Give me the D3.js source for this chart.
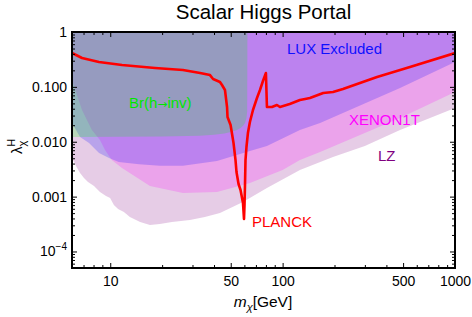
<!DOCTYPE html>
<html><head><meta charset="utf-8">
<script src="https://cdn.jsdelivr.net/npm/d3@7"></script>
<style>
body{margin:0;background:#fff}
text{font-family:"Liberation Sans",Arial,sans-serif}
</style>
</head><body>
<svg id="c" width="472" height="317"></svg>
<script>
// ---- data ----
const xTickValues = [10, 50, 100, 500, 1000];
const xTickLabels = ["10", "50", "100", "500", "1000"];
const xMinorTicks = [6,7,8,9,20,30,40,60,70,80,90,200,300,400,600,700,800,900];
const yTickValues = [1, 0.1, 0.01, 0.001, 0.0001];
const yTickLabels = ["1", "0.100", "0.010", "0.001", "10^-4"];

// PLANCK relic-density line
const planckM = [6.0,6.86,8.6,11.7,18.2,26.4,33.2,37.9,39.5,43.3,44.5,46.3,47.6,47.9,49.9,51.9,53.3,54.0,55.5,57.0,58.9,59.7,60.1,60.5,60.9,61.7,62.9,64.6,67.3,71.0,73.9,76.9,80.0,81.1,86.7,92.7,96.5,110,126,135,144,172,196,224,281,353,548,1000];
const planckL = [0.414,0.336,0.284,0.250,0.221,0.203,0.179,0.164,0.139,0.123,0.108,0.0877,0.043,0.0282,0.0202,0.00948,0.00464,0.00281,0.0017,0.00132,0.000765,0.000391,0.000703,0.00163,0.00464,0.00802,0.0144,0.0229,0.0379,0.0627,0.0877,0.128,0.179,0.043,0.043,0.0467,0.043,0.0487,0.0577,0.0601,0.0627,0.0773,0.0807,0.0914,0.118,0.151,0.230,0.414];

// LUX excluded (lower boundary)
const luxM = [5.39,6.0,6.68,7.53,8.61,9.84,11.2,14.7,19.4,26.4,41.6,64.6,81.1,126,165,480,1000];
const luxL = [0.0395,0.0220,0.0122,0.00948,0.00623,0.00506,0.00427,0.0039,0.00364,0.00364,0.00446,0.00678,0.00836,0.0164,0.022,0.0953,0.284];

// XENON1T (lower boundary)
const xenonM = [5.54,6.0,6.86,7.83,8.72,9.33,10.2,11.7,17.0,26.4,41.6,64.6,100,126,165,480,1000];
const xenonL = [0.203,0.133,0.0379,0.0164,0.0108,0.00707,0.00464,0.00332,0.00156,0.00116,0.00121,0.00177,0.00306,0.00465,0.0065,0.0271,0.0807];

// LZ (lower boundary)
const lzM = [5.54,6.0,6.33,6.68,7.04,7.43,8.05,8.72,9.45,9.98,10.5,11.1,12.0,13.0,14.9,17.0,19.4,22.8,29.0,35.4,43.3,58.9,81.1,126,196,300,480,1000];
const lzL = [0.00769,0.00506,0.00361,0.00269,0.00218,0.00185,0.00156,0.00121,0.00103,0.000944,0.000703,0.000594,0.000525,0.000425,0.000344,0.000304,0.000318,0.000344,0.000375,0.000425,0.000502,0.000798,0.00144,0.00306,0.00527,0.00836,0.0164,0.0412];

// Br(h->inv) (lower boundary)
const brM = [5,20,33,40,46,50,54,57,59,60.5,61.7,62.3,62.5];
const brL = [0.0122,0.0124,0.0128,0.0134,0.0142,0.015,0.0162,0.0178,0.0195,0.022,0.027,0.036,1];

// ---- drawing ----
const svg = d3.select("#c");
const L = 72, R = 455, T = 32, B = 268;
const x = d3.scaleLog().domain([6, 1000]).range([L, R]);
const y = d3.scaleLog().domain([5e-5, 1]).range([B, T]);

svg.append("defs").append("clipPath").attr("id","clip")
  .append("rect").attr("x",L).attr("y",T).attr("width",R-L).attr("height",B-T);

const plot = svg.append("g").attr("clip-path","url(#clip)");

function regionPath(ms, ls) {
  const pts = ms.map((m,i)=>[x(m), y(ls[i])]);
  pts.push([x(ms[ms.length-1]), y(1)-5]);
  pts.push([x(ms[0]), y(1)-5]);
  return "M" + pts.map(p=>p.join(",")).join("L") + "Z";
}
function regionPathFull(ms, ls) {
  const pts = ms.map((m,i)=>[x(m), y(ls[i])]);
  pts.push([R+5, pts[pts.length-1][1]]);
  pts.push([R+5, T-5]);
  pts.push([pts[0][0]-5, T-5]);
  return "M" + pts.map(p=>p.join(",")).join("L") + "Z";
}

plot.append("path").attr("d", regionPathFull(lzM, lzL)).attr("fill","#800080").attr("fill-opacity",0.2);
plot.append("path").attr("d", regionPathFull(xenonM, xenonL)).attr("fill","#ff00ff").attr("fill-opacity",0.2);
plot.append("path").attr("d", regionPathFull(luxM, luxL)).attr("fill","#0000ff").attr("fill-opacity",0.2);
plot.append("path").attr("d", regionPath(brM, brL)).attr("fill","#00ff00").attr("fill-opacity",0.2);

const line = d3.line().x((d)=>x(d[0])).y((d)=>y(d[1]));
plot.append("path").datum(planckM.map((m,i)=>[m, planckL[i]]))
  .attr("d", line).attr("fill","none").attr("stroke","#ff0000").attr("stroke-width",2.6)
  .attr("stroke-linejoin","round");

// ---- axes ----
const yMinor = [];
for (let e=-5; e<=-1; e++) for (let k=2; k<=9; k++) { const v=k*Math.pow(10,e); if (v>=5e-5 && v<1) yMinor.push(v); }

function styleAxis(g){ g.select(".domain").remove(); g.selectAll("line").attr("stroke","#000").attr("stroke-width",1); }

svg.append("g").attr("transform",`translate(${L},0)`)
  .call(d3.axisLeft(y).tickValues(yTickValues).tickSize(-5).tickPadding(5)
    .tickFormat((d,i)=>yTickLabels[i]))
  .call(styleAxis)
  .call(g=>g.selectAll("text").attr("font-size","14px").attr("fill","#000")
    .attr("font-family",'"Liberation Sans",Arial,sans-serif')
    .each(function(d,i){
      const lab = yTickLabels[i];
      if (lab.includes("^")) {
        const [base, ex] = lab.split("^");
        const t = d3.select(this); t.text(null);
        t.append("tspan").text(base);
        t.append("tspan").text(ex.replace("-","\u2212")).attr("font-size","10px").attr("dy","-0.6em");
      }
    }));
svg.append("g").attr("transform",`translate(${L},0)`)
  .call(d3.axisLeft(y).tickValues(yMinor).tickSize(-3).tickFormat(""))
  .call(styleAxis);
svg.append("g").attr("transform",`translate(${R},0)`)
  .call(d3.axisRight(y).tickValues(yTickValues).tickSize(-5).tickFormat(""))
  .call(styleAxis);
svg.append("g").attr("transform",`translate(${R},0)`)
  .call(d3.axisRight(y).tickValues(yMinor).tickSize(-3).tickFormat(""))
  .call(styleAxis);
svg.append("g").attr("transform",`translate(0,${B})`)
  .call(d3.axisBottom(x).tickValues(xTickValues).tickSize(-5).tickPadding(8)
    .tickFormat((d,i)=>xTickLabels[i]))
  .call(styleAxis)
  .call(g=>g.selectAll("text").attr("font-size","14px").attr("fill","#000")
    .attr("font-family",'"Liberation Sans",Arial,sans-serif'));
svg.append("g").attr("transform",`translate(0,${B})`)
  .call(d3.axisBottom(x).tickValues(xMinorTicks).tickSize(-3).tickFormat(""))
  .call(styleAxis);
svg.append("g").attr("transform",`translate(0,${T})`)
  .call(d3.axisTop(x).tickValues(xTickValues).tickSize(-5).tickFormat(""))
  .call(styleAxis);
svg.append("g").attr("transform",`translate(0,${T})`)
  .call(d3.axisTop(x).tickValues(xMinorTicks).tickSize(-3).tickFormat(""))
  .call(styleAxis);

svg.append("rect").attr("x",L).attr("y",T).attr("width",R-L).attr("height",B-T)
  .attr("fill","none").attr("stroke","#000").attr("stroke-width",2);

svg.append("text").attr("x",(L+R)/2).attr("y",19).attr("text-anchor","middle")
  .attr("font-size","20.5px").attr("fill","#000").text("Scalar Higgs Portal");

const xl = svg.append("text").attr("x",263).attr("y",307).attr("text-anchor","middle")
  .attr("font-size","15.5px").attr("fill","#000");
xl.append("tspan").attr("font-style","italic").text("m");
xl.append("tspan").attr("font-size","11px").attr("font-style","italic").attr("dy","4").text("\u03c7");
xl.append("tspan").attr("dy","-4").text("[GeV]");

const yl = svg.append("text").attr("transform","translate(22,154) rotate(-90)")
  .attr("font-size","15px").attr("fill","#000");
yl.append("tspan").text("\u03bb");
yl.append("tspan").attr("font-size","11px").attr("dy","4").text("\u03c7");
yl.append("tspan").attr("font-size","11px").attr("dx","-6").attr("dy","-11").text("H");

const ann = [
  {t:"LUX Excluded", x:287, y:54, c:"#1010ff"},
  {t:"XENON1T", x:349, y:125, c:"#ff00ff"},
  {t:"LZ", x:378, y:161, c:"#800080"},
  {t:"PLANCK", x:252, y:227, c:"#ff0000"}
];
svg.selectAll("text.ann").data(ann).enter().append("text").attr("class","ann")
  .attr("x",d=>d.x).attr("y",d=>d.y).attr("fill",d=>d.c).attr("font-size","15px").text(d=>d.t);

const br = svg.append("text").attr("x",129).attr("y",108).attr("fill","#00e600").attr("font-size","15px");
br.append("tspan").text("Br(h");
br.append("tspan").attr("font-family",'"DejaVu Sans",sans-serif').attr("font-size","12px").text("\u2192");
br.append("tspan").text("inv)");
</script>
</body></html>
